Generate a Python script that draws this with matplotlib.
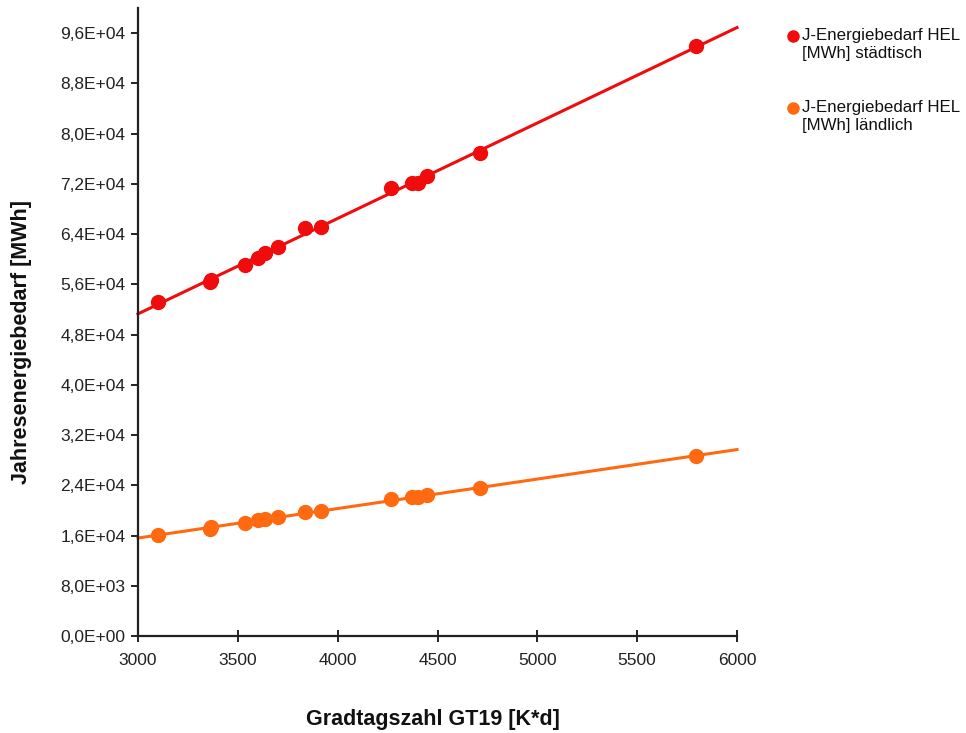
import numpy as np
import matplotlib.pyplot as plt
from matplotlib.lines import Line2D
from matplotlib.ticker import FuncFormatter

plt.rcParams['font.family'] = ['Liberation Sans', 'DejaVu Sans']

# Gradtagszahl GT19 [K*d]
gt19 = [3100, 3361, 3365, 3536, 3601, 3636, 3701, 3836, 3917, 4267, 4372, 4402, 4447, 4713, 5795]

# J-Energiebedarf HEL [MWh]
staedtisch = [53200, 56400, 56700, 59100, 60200, 61000, 61900, 64900, 65100,
              71300, 72100, 72200, 73200, 76900, 93900]
laendlich = [16100, 17100, 17300, 18000, 18400, 18600, 18900, 19700, 19900,
             21800, 22100, 22150, 22450, 23500, 28650]

labels = ['J-Energiebedarf HEL\n[MWh] städtisch', 'J-Energiebedarf HEL\n[MWh] ländlich']
colors = ['#f00c0c', '#ff6a10']

y_ticks = np.arange(0, 96001, 8000)
x_ticks = np.arange(3000, 6001, 500)


def sci_comma(v, pos):
    s = f'{v:.1E}'
    return s.replace('.', ',')


fig = plt.figure(figsize=(9.66, 7.33), dpi=100)
ax = fig.add_axes([138 / 966, 97 / 733, (737 - 138) / 966, (636 - 8) / 733])

x_line = np.array([3000, 6000])
for y, c in zip([staedtisch, laendlich], colors):
    k, d = np.polyfit(gt19, y, 1)
    ax.plot(x_line, k * x_line + d, color=c, lw=2.2, zorder=2, clip_on=False)
    ax.plot(gt19, y, 'o', color=c, ms=10, zorder=3, clip_on=False)

ax.set_xlim(3000, 6000)
ax.set_ylim(0, 100000)
ax.set_xticks(x_ticks)
ax.set_yticks(y_ticks)
ax.yaxis.set_major_formatter(FuncFormatter(sci_comma))

for s in ['top', 'right']:
    ax.spines[s].set_visible(False)
for s in ['left', 'bottom']:
    ax.spines[s].set_linewidth(1.6)
    ax.spines[s].set_color('#222222')
ax.tick_params(axis='x', direction='inout', length=8, width=1.4, labelsize=12.5, pad=8, colors='#222222')
ax.tick_params(axis='y', direction='out', length=5, width=1.4, labelsize=12.5, pad=4, colors='#222222')

fig.text(433 / 966, 1 - 720 / 733, 'Gradtagszahl GT19 [K*d]', fontsize=15.5,
         fontweight='bold', ha='center', va='center', color='#111111')
fig.text(22 / 966, 1 - 342 / 733, 'Jahresenergiebedarf [MWh]', fontsize=15.5,
         fontweight='bold', ha='center', va='center', rotation=90, color='#111111')

# legend: marker level with the first text line
for i, (c, lab) in enumerate(zip(colors, labels)):
    y_mark = 36 + 72 * i
    fig.add_artist(Line2D([793 / 966], [1 - y_mark / 733], marker='o', color=c,
                          ms=8, ls='none', transform=fig.transFigure))
    fig.text(802 / 966, 1 - (y_mark + 8.5) / 733, lab, fontsize=12.2,
             ha='left', va='center', color='#111111')

fig.savefig('out.png', dpi=100)
